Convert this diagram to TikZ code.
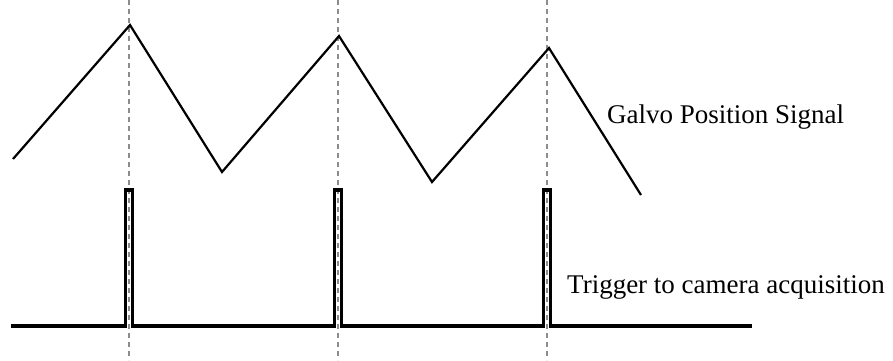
\documentclass[tikz,border=0pt]{standalone}
\usepackage{fontspec}
\setmainfont{Liberation Serif}
\usepackage{xcolor}
\definecolor{markclr}{RGB}{140,140,140}

\begin{document}
\begin{tikzpicture}[x=1pt,y=-1pt,
    sync/.style={draw=markclr, line width=1.4pt, dash pattern=on 5pt off 4pt},
    galvo/.style={line width=2.2pt, line join=miter},
    trig/.style={line width=3.2pt, line join=miter},
    lbl/.style={anchor=base west, inner sep=0pt, font=\fontsize{27}{30}\selectfont}]
    \useasboundingbox (0,0) rectangle (893,360);
    % trigger instants
    \foreach \t in {129,338,547}
      \draw[sync] (\t,0) -- (\t,360);
    % galvo signal
    \draw[galvo] (13,159) -- (130,25) -- (222,172) -- (339,36)
        -- (432,182) -- (549,48) -- (641,195);
    % camera trigger
    \draw[trig] (11,326) -- (125.5,326) -- (125.5,190) -- (132.5,190) -- (132.5,326)
        -- (334.5,326) -- (334.5,190) -- (341.5,190) -- (341.5,326)
        -- (543.5,326) -- (543.5,190) -- (550.5,190) -- (550.5,326) -- (752,326);
    \node[lbl] (G) at (607,123) {Galvo Position Signal};
    \node[lbl] (T) at (567,293) {Trigger to camera acquisition};
  \end{tikzpicture}
\end{document}
